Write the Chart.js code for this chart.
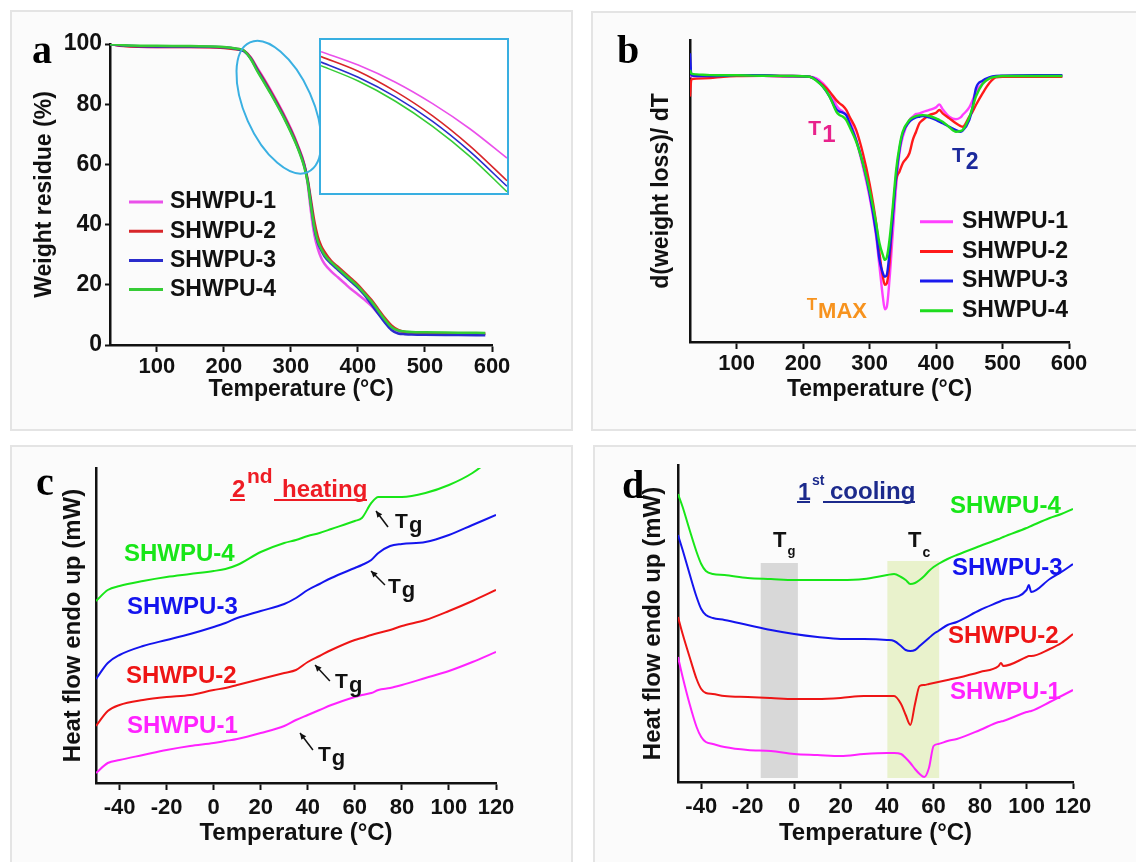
<!DOCTYPE html>
<html>
<head>
<meta charset="utf-8">
<title>SHWPU TGA / DTG / DSC</title>
<script src="https://cdn.jsdelivr.net/npm/chart.js@4.4.1/dist/chart.umd.min.js"></script>
<style>
  html, body { margin: 0; padding: 0; background: #fff; }
  #page { position: relative; width: 1136px; height: 862px; overflow: hidden; }
  .panel { position: absolute; box-sizing: border-box; border: 2px solid #e4e4e4; background: #fbfbfb; }
  canvas { position: absolute; }
  #insetBox { position: absolute; left: 319px; top: 38px; width: 186px; height: 153px; border: 2px solid #38afe1; background: #fff; }
  #insetBox canvas { left: 0; top: 0; }
</style>
</head>
<body>
<div id="page">
  <div class="panel" style="left:10px;top:10px;width:563px;height:421px"></div>
  <div class="panel" style="left:591px;top:11px;width:560px;height:420px"></div>
  <div class="panel" style="left:10px;top:445px;width:563px;height:430px"></div>
  <div class="panel" style="left:593px;top:445px;width:560px;height:430px"></div>

  <canvas id="chartA" width="563" height="421" style="left:10px;top:10px"></canvas>
  <div id="insetBox"><canvas id="chartInset" width="186" height="153"></canvas></div>
  <canvas id="chartB" width="545" height="420" style="left:591px;top:11px"></canvas>
  <canvas id="chartC" width="563" height="417" style="left:10px;top:445px"></canvas>
  <canvas id="chartD" width="543" height="417" style="left:593px;top:445px"></canvas>
</div>
<script>
// ---------------- data ----------------
const seriesNames = ['SHWPU-1', 'SHWPU-2', 'SHWPU-3', 'SHWPU-4'];

// (a) TGA, weight residue (%)
const tgaTemp = [30, 50, 100, 150, 200, 220, 230, 240, 250, 260, 270, 280, 290, 300, 310, 320, 325, 330, 335, 340, 345, 350, 360, 370, 380, 390, 400, 410, 420, 430, 440, 450, 460, 470, 480, 500, 550, 590];
const tga1 = [100.0, 99.4, 99.0, 99.0, 98.8, 98.4, 97.8, 95.6, 92.0, 88.4, 84.6, 80.6, 76.4, 71.8, 66.5, 60.0, 53.5, 44.0, 36.5, 32.0, 29.0, 27.0, 24.5, 22.5, 20.5, 18.5, 16.8, 15.0, 13.0, 10.5, 8.0, 5.8, 4.6, 4.2, 4.0, 3.9, 3.8, 3.7];
const tga2 = [100.0, 99.3, 99.0, 99.0, 98.7, 98.2, 97.7, 95.4, 91.6, 88.0, 84.2, 80.2, 76.0, 71.4, 66.2, 59.8, 55.0, 48.0, 41.0, 36.0, 33.0, 31.0, 28.0, 26.0, 24.0, 22.0, 20.0, 17.5, 15.0, 12.0, 9.0, 6.5, 5.0, 4.3, 4.0, 3.9, 3.8, 3.7];
const tga3 = [99.9, 99.5, 99.2, 99.2, 98.9, 98.3, 97.6, 95.2, 91.2, 87.5, 83.7, 79.7, 75.5, 70.9, 65.8, 59.4, 54.5, 46.5, 38.5, 34.0, 31.5, 29.5, 27.0, 25.0, 23.0, 21.0, 19.0, 16.5, 13.5, 10.5, 7.5, 5.0, 3.8, 3.6, 3.5, 3.4, 3.3, 3.2];
const tga4 = [99.9, 99.6, 99.4, 99.3, 99.0, 98.4, 97.8, 95.0, 90.9, 87.2, 83.4, 79.4, 75.2, 70.6, 65.5, 59.0, 54.0, 46.0, 39.0, 34.5, 32.0, 30.0, 27.5, 25.5, 23.5, 21.5, 19.5, 17.0, 14.5, 11.5, 8.5, 6.0, 4.8, 4.5, 4.3, 4.2, 4.1, 4.0];

// (a) inset, magnified 250-300 °C
const insetTemp = [250, 260, 270, 280, 290, 300];
const inset1 = [93.1, 90.9, 88.1, 84.6, 80.5, 75.7];
const inset2 = [92.3, 89.9, 86.6, 82.6, 77.7, 72.0];
const inset3 = [91.4, 88.9, 85.7, 81.7, 76.8, 71.1];
const inset4 = [90.8, 88.3, 85.0, 80.9, 76.0, 70.2];

// (b) DTG, d(weight loss)/dT (arb. units)
const dtgTemp = [30, 32, 40, 60, 80, 100, 140, 180, 210, 220, 230, 240, 250, 255, 260, 265, 270, 280, 290, 300, 310, 315, 320, 323, 326, 330, 335, 340, 345, 350, 360, 365, 370, 375, 380, 390, 400, 405, 410, 420, 430, 437, 440, 450, 455, 460, 470, 480, 490, 500, 550, 590];
const dtg1 = [-0.003, 0, 0, 0, 0.003, 0.003, 0.001, -0.003, -0.003, -0.010, -0.031, -0.067, -0.124, -0.142, -0.152, -0.167, -0.188, -0.274, -0.387, -0.516, -0.687, -0.815, -0.943, -0.997, -0.986, -0.872, -0.672, -0.473, -0.330, -0.259, -0.188, -0.174, -0.162, -0.160, -0.154, -0.145, -0.134, -0.121, -0.142, -0.174, -0.185, -0.177, -0.167, -0.134, -0.103, -0.067, -0.031, -0.010, -0.003, 0, 0, 0];
const dtg2 = [-0.088, -0.014, -0.011, -0.009, -0.003, 0, 0.001, 0, -0.003, -0.017, -0.038, -0.067, -0.103, -0.117, -0.128, -0.145, -0.174, -0.231, -0.330, -0.459, -0.630, -0.758, -0.858, -0.893, -0.886, -0.801, -0.587, -0.444, -0.409, -0.373, -0.330, -0.274, -0.238, -0.202, -0.188, -0.167, -0.157, -0.145, -0.160, -0.181, -0.202, -0.214, -0.217, -0.174, -0.152, -0.124, -0.074, -0.031, -0.006, -0.003, -0.003, -0.003];
const dtg3 = [0.097, 0.004, 0, 0, 0.001, 0.004, 0.003, 0, -0.003, -0.017, -0.046, -0.088, -0.142, -0.152, -0.157, -0.167, -0.202, -0.274, -0.373, -0.501, -0.672, -0.786, -0.843, -0.858, -0.850, -0.758, -0.601, -0.430, -0.316, -0.245, -0.195, -0.184, -0.177, -0.174, -0.171, -0.177, -0.188, -0.195, -0.202, -0.217, -0.231, -0.238, -0.234, -0.188, -0.134, -0.053, -0.020, -0.006, 0, 0.001, 0.003, 0.003];
const dtg4 = [0.026, 0.011, 0.007, 0.004, 0.003, 0.003, 0.001, 0, -0.003, -0.020, -0.046, -0.088, -0.152, -0.167, -0.174, -0.188, -0.217, -0.281, -0.373, -0.487, -0.630, -0.715, -0.765, -0.786, -0.775, -0.701, -0.558, -0.402, -0.302, -0.238, -0.188, -0.177, -0.171, -0.168, -0.167, -0.171, -0.181, -0.188, -0.195, -0.219, -0.238, -0.235, -0.231, -0.177, -0.134, -0.088, -0.034, -0.011, -0.003, 0, 0, 0];

// (c) DSC 2nd heating, heat flow (stacked, arb. units)
const heatTemp = [-50, -45, -40, -30, -20, -10, 0, 5, 10, 20, 30, 35, 40, 45, 50, 60, 63, 67, 70, 75, 80, 90, 100, 110, 120];
const heat1 = [1.0, 2.0, 2.3, 2.8, 3.3, 3.7, 4.0, 4.2, 4.4, 5.0, 5.7, 6.3, 6.8, 7.3, 7.8, 8.6, 8.8, 9.0, 9.3, 9.5, 9.8, 10.5, 11.2, 12.1, 13.1];
const heat2 = [5.7, 7.2, 7.8, 8.3, 8.6, 8.8, 9.3, 9.5, 9.8, 10.4, 11.0, 11.3, 12.1, 12.7, 13.3, 14.3, 14.5, 14.8, 15.0, 15.3, 15.7, 16.3, 17.2, 18.2, 19.3];
const heat3 = [10.4, 12.0, 12.8, 13.7, 14.3, 14.9, 15.6, 16.0, 16.5, 17.2, 17.9, 18.5, 19.3, 19.9, 20.5, 21.5, 21.8, 22.3, 23.0, 23.7, 23.9, 24.1, 24.8, 25.8, 26.8];
const heat4 = [18.2, 19.3, 19.7, 20.2, 20.6, 20.9, 21.2, 21.4, 21.8, 23.1, 24.0, 24.3, 24.7, 25.0, 25.4, 26.2, 26.5, 28.0, 28.6, 28.6, 28.6, 29.0, 29.8, 31.0, 32.8];

// (d) DSC 1st cooling, heat flow (stacked, arb. units)
const coolTemp = [-50, -48, -45, -42, -40, -38, -35, -30, -20, -10, 0, 10, 20, 30, 40, 43, 46, 48, 50, 52, 54, 56, 58, 60, 62, 66, 70, 80, 88, 89, 90, 100, 101, 102, 110, 115, 120];
const cool1 = [12.5, 10.5, 7.8, 5.5, 4.5, 4.0, 3.8, 3.5, 3.2, 3.1, 2.8, 2.7, 2.6, 2.8, 2.9, 2.9, 2.8, 2.4, 1.9, 1.3, 0.8, 0.5, 1.4, 3.6, 3.8, 4.1, 4.3, 5.2, 6.0, 6.05, 6.1, 7.0, 7.05, 7.1, 8.0, 8.6, 9.2];
const cool2 = [16.5, 14.8, 12.5, 10.3, 9.3, 8.9, 8.8, 8.6, 8.5, 8.4, 8.3, 8.3, 8.4, 8.6, 8.6, 8.6, 7.8, 6.7, 5.7, 7.8, 9.6, 9.7, 9.8, 9.9, 10.0, 10.2, 10.4, 11.0, 11.6, 11.9, 11.6, 12.5, 12.6, 12.6, 13.3, 13.9, 14.8];
const cool3 = [24.7, 23.2, 20.8, 18.5, 17.3, 16.7, 16.4, 16.2, 15.7, 15.2, 14.8, 14.5, 14.3, 14.3, 14.2, 14.1, 13.6, 13.2, 13.1, 13.2, 13.6, 14.0, 14.4, 14.8, 15.1, 15.7, 16.0, 17.2, 18.0, 18.1, 18.2, 19.2, 19.7, 19.0, 20.3, 21.0, 21.8];
const cool4 = [28.8, 27.5, 25.2, 23.0, 21.8, 21.1, 20.8, 20.7, 20.4, 20.3, 20.2, 20.2, 20.2, 20.3, 20.7, 20.8, 20.5, 20.2, 19.8, 19.9, 20.2, 20.6, 21.1, 21.5, 21.8, 22.3, 22.7, 23.6, 24.3, 24.4, 24.5, 25.4, 25.5, 25.6, 26.4, 26.8, 27.3];

// ---------------- styling helpers ----------------
const colorsA = ['#ea50ea', '#d8262a', '#2a2ccc', '#36cc36'];
const colorsB = ['#ff40ff', '#ff1a1a', '#1a1aee', '#1edc1e'];
const colorsCD = ['#ff22ff', '#ee1515', '#1414ee', '#18e618'];
const SANS = '"Liberation Sans", Arial, sans-serif';
const INK = '#111';

Chart.defaults.font.family = SANS;
Chart.defaults.font.weight = 'bold';
Chart.defaults.color = INK;

function bold(size) { return 'bold ' + size + 'px ' + SANS; }

// page-pixel layout of a panel -> padding / axis box sizes for the canvas
function frame(box, area, yTitleX, xTitleY, titleSize) {
  const half = titleSize * 1.2 / 2;
  const left = yTitleX - box.x - half;
  const bottomEdge = xTitleY - box.y + half;
  return {
    titleSize: titleSize,
    padding: { left: left, top: area.t - box.y, right: box.x + box.w - area.r, bottom: box.h - bottomEdge },
    yWidth: area.l - box.x - left,
    xHeight: bottomEdge - (area.b - box.y)
  };
}

function pts(temps, values) {
  return temps.map((t, i) => ({ x: t, y: values[i] }));
}

function lineSets(temps, list, colors, width) {
  return list.map((vals, i) => ({
    label: seriesNames[i],
    data: pts(temps, vals),
    borderColor: colors[i],
    borderWidth: width,
    pointRadius: 0,
    fill: false,
    cubicInterpolationMode: 'monotone',
    order: 4 - i
  }));
}

function tempAxis(f, min, max, step, pad) {
  return {
    type: 'linear', position: 'bottom', min: min, max: max,
    border: { display: true, color: INK, width: 2.5 },
    grid: { display: true, drawOnChartArea: false, drawTicks: true, tickLength: 7, tickWidth: 2, tickColor: INK },
    ticks: { stepSize: step, includeBounds: false, padding: pad, autoSkip: false, maxRotation: 0, font: { size: 22, weight: 'bold' }, color: INK },
    title: { display: true, text: 'Temperature (°C)', font: { size: f.titleSize, weight: 'bold' }, padding: 0, color: INK },
    afterFit: s => { s.height = f.xHeight; }
  };
}

function plainYAxis(f, min, max, text) {
  return {
    type: 'linear', min: min, max: max, bounds: 'data',
    border: { display: true, color: INK, width: 2.5 },
    grid: { display: false },
    ticks: { display: false },
    title: { display: true, text: text, font: { size: f.titleSize, weight: 'bold' }, padding: 0, color: INK },
    afterFit: s => { s.width = f.yWidth; }
  };
}

function subText(ctx, x, y, main, mainSize, small, smallSize, dy) {
  ctx.font = bold(mainSize);
  ctx.fillText(main, x, y);
  const w = ctx.measureText(main).width;
  ctx.font = bold(smallSize);
  ctx.fillText(small, x + w + 1, y + dy);
}

function arrow(ctx, x1, y1, x2, y2) {
  const a = Math.atan2(y2 - y1, x2 - x1);
  ctx.beginPath();
  ctx.moveTo(x1, y1);
  ctx.lineTo(x2, y2);
  ctx.stroke();
  ctx.beginPath();
  ctx.moveTo(x2, y2);
  ctx.lineTo(x2 - 7 * Math.cos(a - 0.45), y2 - 7 * Math.sin(a - 0.45));
  ctx.lineTo(x2 - 7 * Math.cos(a + 0.45), y2 - 7 * Math.sin(a + 0.45));
  ctx.closePath();
  ctx.fill();
}

const panelLetter = {
  id: 'panelLetter',
  afterDraw(chart, args, opts) {
    const ctx = chart.ctx;
    ctx.save();
    ctx.font = 'bold 40px "Liberation Serif", "Times New Roman", serif';
    ctx.fillStyle = '#000';
    ctx.textAlign = 'left';
    ctx.textBaseline = 'alphabetic';
    ctx.fillText(opts.text, opts.x, opts.y);
    ctx.restore();
  }
};

const lineLegend = {
  id: 'lineLegend',
  afterDraw(chart, args, opts) {
    const ctx = chart.ctx;
    ctx.save();
    ctx.font = bold(opts.size);
    ctx.textAlign = 'left';
    ctx.textBaseline = 'middle';
    chart.data.datasets.forEach((ds, i) => {
      const y = opts.y + i * opts.step;
      ctx.strokeStyle = ds.borderColor;
      ctx.lineWidth = 3;
      ctx.beginPath();
      ctx.moveTo(opts.x, y);
      ctx.lineTo(opts.x + opts.len, y);
      ctx.stroke();
      ctx.fillStyle = INK;
      ctx.fillText(ds.label, opts.x + opts.len + opts.gap, y);
    });
    ctx.restore();
  }
};

const baseOptions = {
  responsive: false,
  animation: false,
  events: [],
  plugins: { legend: { display: false }, tooltip: { enabled: false } }
};

// ---------------- (a) TGA ----------------
const fA = frame({ x: 10, y: 10, w: 563, h: 421 }, { l: 110, t: 44, r: 492, b: 345 }, 45, 390, 23);

const ellipseA = {
  id: 'ellipseA',
  afterDatasetsDraw(chart) {
    const { ctx, scales: { x, y } } = chart;
    ctx.save();
    ctx.strokeStyle = '#3ab0e2';
    ctx.lineWidth = 2;
    ctx.beginPath();
    ctx.ellipse(x.getPixelForValue(282), y.getPixelForValue(79), 34, 71, -24 * Math.PI / 180, 0, 2 * Math.PI);
    ctx.stroke();
    ctx.restore();
  }
};

new Chart(document.getElementById('chartA'), {
  type: 'line',
  data: { datasets: lineSets(tgaTemp, [tga1, tga2, tga3, tga4], colorsA, 2.5) },
  options: Object.assign({}, baseOptions, {
    layout: { padding: fA.padding },
    plugins: {
      legend: { display: false }, tooltip: { enabled: false },
      panelLetter: { text: 'a', x: 22, y: 53 },
      lineLegend: { x: 119, y: 192, step: 29.2, len: 34, gap: 7, size: 23 }
    },
    scales: {
      x: tempAxis(fA, 30, 600, 100, 2),
      y: {
        type: 'linear', min: 0, max: 100,
        border: { display: true, color: INK, width: 2.5 },
        grid: { display: true, drawOnChartArea: false, drawTicks: true, tickLength: 5, tickWidth: 2, tickColor: INK },
        ticks: { stepSize: 20, padding: 3, font: { size: 23, weight: 'bold' }, color: INK },
        title: { display: true, text: 'Weight residue (%)', font: { size: 23, weight: 'bold' }, padding: 0, color: INK },
        afterFit: s => { s.width = fA.yWidth; }
      }
    }
  }),
  plugins: [ellipseA, panelLetter, lineLegend]
});

new Chart(document.getElementById('chartInset'), {
  type: 'line',
  data: { datasets: lineSets(insetTemp, [inset1, inset2, inset3, inset4], colorsA, 1.6) },
  options: Object.assign({}, baseOptions, {
    layout: { padding: 0 },
    scales: {
      x: { type: 'linear', display: false, min: 250, max: 300 },
      y: { type: 'linear', display: false, min: 70, max: 95 }
    }
  })
});

// ---------------- (b) DTG ----------------
const fB = frame({ x: 591, y: 11, w: 545, h: 420 }, { l: 690, t: 40, r: 1069, b: 342 }, 662, 390, 23);

const notesB = {
  id: 'notesB',
  afterDraw(chart) {
    const { ctx, scales: { x, y } } = chart;
    ctx.save();
    ctx.textAlign = 'left';
    ctx.textBaseline = 'alphabetic';
    ctx.fillStyle = '#e8228c';
    subText(ctx, x.getPixelForValue(208), y.getPixelForValue(-0.252), 'T', 21, '1', 24, 7.5);
    ctx.fillStyle = '#1c2a9c';
    subText(ctx, x.getPixelForValue(424), y.getPixelForValue(-0.366), 'T', 21, '2', 23, 7);
    ctx.fillStyle = '#f7931e';
    subText(ctx, x.getPixelForValue(205.5), y.getPixelForValue(-1.0), 'T', 17, 'MAX', 22, 8);
    ctx.restore();
  }
};

new Chart(document.getElementById('chartB'), {
  type: 'line',
  data: { datasets: lineSets(dtgTemp, [dtg1, dtg2, dtg3, dtg4], colorsB, 2.4) },
  options: Object.assign({}, baseOptions, {
    layout: { padding: fB.padding },
    plugins: {
      legend: { display: false }, tooltip: { enabled: false },
      panelLetter: { text: 'b', x: 26, y: 52 },
      lineLegend: { x: 329, y: 210.7, step: 29.7, len: 33, gap: 9, size: 23 }
    },
    scales: {
      x: tempAxis(fB, 30, 600, 100, 2),
      y: plainYAxis(fB, -1.137, 0.154, 'd(weight loss)/ dT')
    }
  }),
  plugins: [notesB, panelLetter, lineLegend]
});

// ---------------- (c) DSC 2nd heating ----------------
const fC = frame({ x: 10, y: 445, w: 563, h: 417 }, { l: 96, t: 468, r: 496, b: 783 }, 73, 833, 24);

const notesC = {
  id: 'notesC',
  afterDraw(chart) {
    const { ctx, scales: { x, y } } = chart;
    const sets = chart.data.datasets;
    ctx.save();
    ctx.textAlign = 'left';
    // curve names
    const names = [[-36.8, 5.7], [-37.3, 10.7], [-36.8, 17.6], [-38.1, 22.9]];
    ctx.textBaseline = 'middle';
    ctx.font = bold(24);
    names.forEach((p, i) => {
      ctx.fillStyle = sets[i].borderColor;
      ctx.fillText(sets[i].label, x.getPixelForValue(p[0]), y.getPixelForValue(p[1]));
    });
    // Tg arrows: tail, head, text position
    const tg = [
      [42.2, 3.3, 36.7, 5.0, 44.3, 2.2],
      [49.4, 10.2, 43.1, 11.8, 51.6, 9.5],
      [72.8, 19.8, 66.9, 21.2, 74.1, 19.0],
      [74.1, 25.6, 69.0, 27.2, 77.1, 25.5]
    ];
    ctx.textBaseline = 'alphabetic';
    ctx.strokeStyle = INK;
    ctx.fillStyle = INK;
    ctx.lineWidth = 1.5;
    tg.forEach(a => {
      arrow(ctx, x.getPixelForValue(a[0]), y.getPixelForValue(a[1]), x.getPixelForValue(a[2]), y.getPixelForValue(a[3]));
      subText(ctx, x.getPixelForValue(a[4]), y.getPixelForValue(a[5]), 'T', 21, 'g', 22, 4);
    });
    // "2nd heating" heading
    ctx.fillStyle = '#ee1c24';
    ctx.strokeStyle = '#ee1c24';
    ctx.font = bold(24);
    ctx.fillText('2', 222, 52);
    ctx.fillText('heating', 272, 52);
    ctx.font = bold(21);
    ctx.fillText('nd', 237, 38);
    ctx.lineWidth = 2;
    ctx.beginPath();
    ctx.moveTo(220, 55); ctx.lineTo(235, 55);
    ctx.moveTo(264, 55); ctx.lineTo(357, 55);
    ctx.stroke();
    ctx.restore();
  }
};

new Chart(document.getElementById('chartC'), {
  type: 'line',
  data: { datasets: lineSets(heatTemp, [heat1, heat2, heat3, heat4], colorsCD, 2) },
  options: Object.assign({}, baseOptions, {
    layout: { padding: fC.padding },
    plugins: {
      legend: { display: false }, tooltip: { enabled: false },
      panelLetter: { text: 'c', x: 26, y: 50 }
    },
    scales: {
      x: tempAxis(fC, -50, 120, 20, 5),
      y: plainYAxis(fC, 0, 31.5, 'Heat flow endo up (mW)')
    }
  }),
  plugins: [notesC, panelLetter]
});

// ---------------- (d) DSC 1st cooling ----------------
const fD = frame({ x: 593, y: 445, w: 543, h: 417 }, { l: 678, t: 465, r: 1073, b: 782 }, 653, 833, 24);

const bandsD = {
  id: 'bandsD',
  beforeDatasetsDraw(chart) {
    const { ctx, scales: { x, y } } = chart;
    const band = (t0, t1, v0, v1, color) => {
      const xa = x.getPixelForValue(t0), xb = x.getPixelForValue(t1);
      const ya = y.getPixelForValue(v1), yb = y.getPixelForValue(v0);
      ctx.fillStyle = color;
      ctx.fillRect(xa, ya, xb - xa, yb - ya);
    };
    ctx.save();
    band(-14.4, 1.6, 0.4, 21.9, '#d8d8d8');
    band(40.1, 62.4, 0.4, 22.1, '#e9f2cc');
    ctx.restore();
  }
};

const notesD = {
  id: 'notesD',
  afterDraw(chart) {
    const { ctx, scales: { x, y } } = chart;
    const sets = chart.data.datasets;
    ctx.save();
    ctx.textAlign = 'left';
    const names = [[67.1, 9.0], [66.2, 14.6], [67.9, 21.4], [67.1, 27.6]];
    ctx.textBaseline = 'middle';
    ctx.font = bold(24);
    names.forEach((p, i) => {
      ctx.fillStyle = sets[i].borderColor;
      ctx.fillText(sets[i].label, x.getPixelForValue(p[0]), y.getPixelForValue(p[1]));
    });
    ctx.textBaseline = 'alphabetic';
    ctx.fillStyle = INK;
    subText(ctx, x.getPixelForValue(-9.1), y.getPixelForValue(23.5), 'T', 22, 'g', 13, 8);
    subText(ctx, x.getPixelForValue(49.0), y.getPixelForValue(23.5), 'T', 22, 'c', 14, 10);
    // "1st cooling" heading
    ctx.fillStyle = '#1c2a8c';
    ctx.strokeStyle = '#1c2a8c';
    ctx.font = bold(23);
    ctx.fillText('1', 205, 55);
    ctx.font = bold(24);
    ctx.fillText('cooling', 237, 54);
    ctx.font = bold(14);
    ctx.fillText('st', 219, 40);
    ctx.lineWidth = 2;
    ctx.beginPath();
    ctx.moveTo(204, 57); ctx.lineTo(217, 57);
    ctx.moveTo(230, 57); ctx.lineTo(322, 57);
    ctx.stroke();
    ctx.restore();
  }
};

new Chart(document.getElementById('chartD'), {
  type: 'line',
  data: { datasets: lineSets(coolTemp, [cool1, cool2, cool3, cool4], colorsCD, 2) },
  options: Object.assign({}, baseOptions, {
    layout: { padding: fD.padding },
    plugins: {
      legend: { display: false }, tooltip: { enabled: false },
      panelLetter: { text: 'd', x: 29, y: 53 }
    },
    scales: {
      x: tempAxis(fD, -50, 120, 20, 5),
      y: plainYAxis(fD, 0, 31.7, 'Heat flow endo up (mW)')
    }
  }),
  plugins: [bandsD, notesD, panelLetter]
});
</script>
</body>
</html>
